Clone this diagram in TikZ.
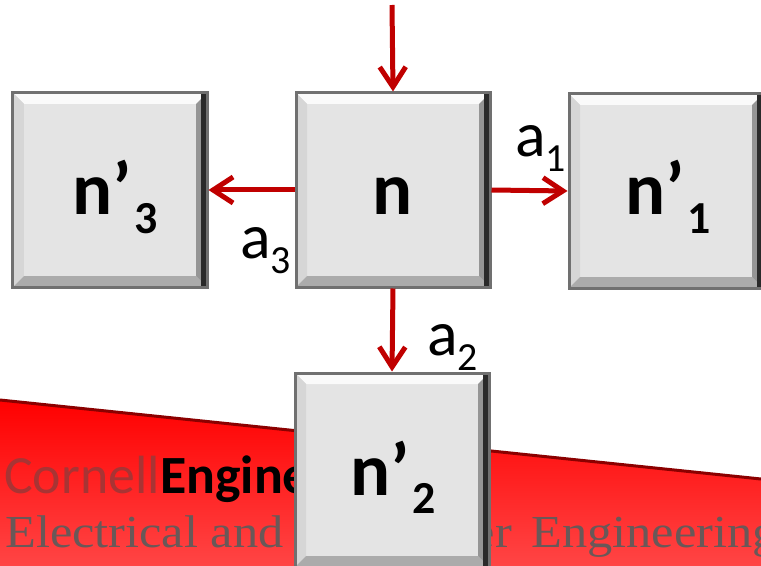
\documentclass[tikz,border=0pt]{standalone}
\usepackage{fontspec}
\setmainfont{Carlito}
\newfontfamily\serifline{Liberation Serif}
\usetikzlibrary{arrows.meta}
\definecolor{arrowred}{HTML}{C00000}
\definecolor{boxfill}{HTML}{E4E4E4}
\definecolor{boxedge}{HTML}{707070}
\definecolor{bevtop}{HTML}{FAFAFA}
\definecolor{bevleft}{HTML}{D6D6D6}
\definecolor{bevbottom}{HTML}{ABABAB}
\definecolor{bevright}{HTML}{959595}
\definecolor{darkedge}{HTML}{2A2A2A}
\definecolor{bandtop}{HTML}{FF0000}
\definecolor{bandbottom}{HTML}{FF4545}
\definecolor{bandedge}{HTML}{8B0000}
\definecolor{cornellc}{HTML}{A83434}
\definecolor{linegrey}{HTML}{6A5858}
\newcommand\nsub[1]{\hspace{3bp}\raisebox{-18bp}{\fontsize{46}{48}\selectfont #1}}
\newcommand\asub[1]{\raisebox{-15bp}{\fontsize{40}{42}\selectfont #1}}
\tikzset{
  bevelbox/.style={rectangle, minimum width=194bp, minimum height=194bp,
    inner sep=0pt, fill=boxfill, draw=boxedge, line width=3bp,
    path picture={
      \coordinate (pNW) at (path picture bounding box.north west);
      \coordinate (pNE) at (path picture bounding box.north east);
      \coordinate (pSW) at (path picture bounding box.south west);
      \coordinate (pSE) at (path picture bounding box.south east);
      \fill[bevtop] (pNW) -- (pNE) -- ([shift={(-11bp,-11bp)}]pNE) -- ([shift={(11bp,-11bp)}]pNW) -- cycle;
      \fill[bevleft] (pNW) -- ([shift={(11bp,-11bp)}]pNW) -- ([shift={(11bp,11bp)}]pSW) -- (pSW) -- cycle;
      \fill[bevbottom] (pSW) -- ([shift={(11bp,11bp)}]pSW) -- ([shift={(-11bp,11bp)}]pSE) -- (pSE) -- cycle;
      \fill[bevright] (pNE) -- ([shift={(-11bp,-11bp)}]pNE) -- ([shift={(-11bp,11bp)}]pSE) -- (pSE) -- cycle;
      \fill[darkedge] ([xshift=-6bp]pNE) rectangle (pSE);
    }},
  nlab/.style={inner sep=0pt, anchor=base west, font=\bfseries\fontsize{75}{80}\selectfont},
  alab/.style={inner sep=0pt, anchor=base west, font=\fontsize{64}{70}\selectfont},
  arr/.style={draw=arrowred, line width=5bp, -{Straight Barb[length=20bp,width=26bp]}},
}
\begin{document}
\begin{tikzpicture}[x=1bp,y=-1bp]
\useasboundingbox (0,0) rectangle (761,566);
\clip (0,0) rectangle (761,566);
% red band background
\shade[top color=bandtop, bottom color=bandbottom] (0,400) -- (761,479) -- (761,566) -- (0,566) -- cycle;
\draw[bandedge, line width=3bp] (0,400) -- (761,479);
\node[inner sep=0pt, anchor=base west, text=cornellc, font=\fontsize{54}{58}\selectfont] (c1) at (4,493) {Cornell};
\node[inner sep=0pt, anchor=base west, text=black, font=\bfseries\fontsize{54}{58}\selectfont] (c2) at (c1.base east) {Engine};
\node[inner sep=0pt, anchor=base west, text=linegrey, font=\serifline\fontsize{46}{50}\selectfont] (e1) at (5,547) {\scalebox{1.1}[1]{Electrical and}};
\node[inner sep=0pt, anchor=base east, text=linegrey, font=\serifline\fontsize{46}{50}\selectfont] (e2) at (512,547) {\scalebox{1.1}[1]{Computer}};
\node[inner sep=0pt, anchor=base west, text=linegrey, font=\serifline\fontsize{46}{50}\selectfont] (e3) at (531,547) {\scalebox{1.1}[1]{Engineering}};
% boxes
\node[bevelbox] (n)  at (393,190) {};
\node[bevelbox] (n3) at (110,190) {};
\node[bevelbox] (n1) at (666,191) {};
\node[bevelbox] (n2) at (392,470) {};
% box labels
\node[nlab, anchor=base] (tn)  at (393,215) {n};
\node[nlab] (tn3) at (72,215) {n’\nsub{3}};
\node[nlab] (tn1) at (625,215) {n’\nsub{1}};
\node[nlab] (tn2) at (350,495) {n’\nsub{2}};
% arrows
\coordinate (src) at (392,5);
\draw[arr] (src) -- (n.north);
\draw[arr] (n.west) -- (n3.east);
\draw[arr] (n.east) -- (n1.west);
\draw[arr] (n.south) -- (n2.north);
% arrow labels
\node[alab] (a1) at (515,157) {a\asub{1}};
\node[alab] (a3) at (240,258) {a\asub{3}};
\node[alab] (a2) at (427,355) {a\asub{2}};
\end{tikzpicture}
\end{document}
